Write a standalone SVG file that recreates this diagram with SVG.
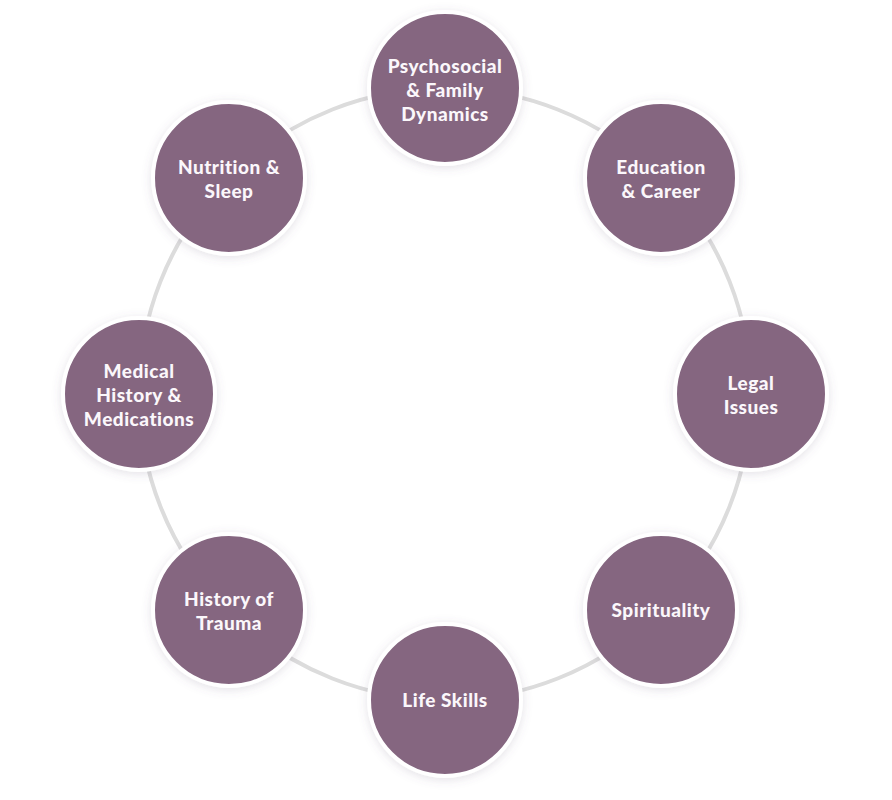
<svg xmlns="http://www.w3.org/2000/svg" width="892" height="800" viewBox="0 0 892 800">
<defs>
<filter id="sh" x="-30%" y="-30%" width="160%" height="160%">
<feGaussianBlur in="SourceAlpha" stdDeviation="5"/>
<feOffset dx="0" dy="2" result="b"/>
<feFlood flood-color="#6a5a7a" flood-opacity="0.18"/>
<feComposite in2="b" operator="in"/>
<feMerge><feMergeNode/><feMergeNode in="SourceGraphic"/></feMerge>
</filter>
</defs>
<style>
.ring{fill:none;stroke:#dcdcdc;stroke-width:4}
.node circle{fill:#856680;stroke:#ffffff;stroke-width:4;filter:url(#sh)}
.node text{fill:#fbf7fb;font-family:Lato,"Open Sans",sans-serif;font-weight:900;font-size:19px;letter-spacing:0.5px;text-anchor:middle}
</style>
<rect width="892" height="800" fill="#ffffff"/>
<g id="connectors">
<circle class="ring" cx="445" cy="394" r="306"/>
</g>
<g id="psychosocial" class="node">
<circle cx="445" cy="88" r="76"/>
<text x="445" y="73">Psychosocial</text>
<text x="445" y="97">&amp; Family</text>
<text x="445" y="121">Dynamics</text>
</g>
<g id="education" class="node">
<circle cx="661" cy="178" r="76"/>
<text x="661" y="174">Education</text>
<text x="661" y="198">&amp; Career</text>
</g>
<g id="legal" class="node">
<circle cx="751" cy="394" r="76"/>
<text x="751" y="390">Legal</text>
<text x="751" y="414">Issues</text>
</g>
<g id="spirituality" class="node">
<circle cx="661" cy="610" r="76"/>
<text x="661" y="617">Spirituality</text>
</g>
<g id="life-skills" class="node">
<circle cx="445" cy="700" r="76"/>
<text x="445" y="707">Life Skills</text>
</g>
<g id="trauma" class="node">
<circle cx="229" cy="610" r="76"/>
<text x="229" y="606">History of</text>
<text x="229" y="630">Trauma</text>
</g>
<g id="medical" class="node">
<circle cx="139" cy="394" r="76"/>
<text x="139" y="378">Medical</text>
<text x="139" y="402">History &amp;</text>
<text x="139" y="426">Medications</text>
</g>
<g id="nutrition" class="node">
<circle cx="229" cy="178" r="76"/>
<text x="229" y="174">Nutrition &amp;</text>
<text x="229" y="198">Sleep</text>
</g>
</svg>
